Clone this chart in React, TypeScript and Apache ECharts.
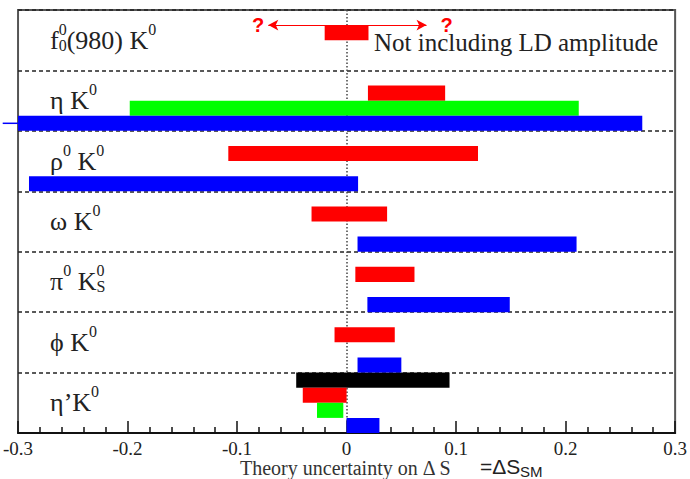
import React, { useEffect, useRef } from 'react';
import * as echarts from 'echarts';

// Rows (top to bottom), rich-text labels
const categories = [
  '{m|f}{supz|0}{sub|0}{m|(980) K}{sup|0}',
  '{m|η K}{sup|0}',
  '{m|ρ}{sup|0}{m| K}{sup|0}',
  '{m|ω K}{sup|0}',
  '{m|π}{sup|0}{m| K}{supz|0}{sub|S}',
  '{m|ϕ K}{sup|0}',
  '{m|η’K}{sup|0}',
];

const xMin = -0.3;
const xMax = 0.3;
const xStep = 0.1;

// Ranges of ΔS per row (null = no bar)
const redLow = [-0.02, 0.0195, -0.108, -0.032, 0.008, -0.011, -0.04];
const redHigh = [0.02, 0.09, 0.12, 0.037, 0.062, 0.044, 0.0];
const greenLow = [null, -0.198, null, null, null, null, -0.027];
const greenHigh = [null, 0.212, null, null, null, null, -0.003];
const blueLow = [null, -0.314, -0.29, 0.01, 0.019, 0.01, 0.0];
const blueHigh = [null, 0.27, 0.0105, 0.21, 0.149, 0.05, 0.03];
const blackLow = [null, null, null, null, null, null, -0.046];
const blackHigh = [null, null, null, null, null, null, 0.094];

const SLOTS = 4;
const serif = 'Liberation Serif';
const sans = 'Liberation Sans';

function makeSeries(name: string, color: string, lows: (number | null)[], highs: (number | null)[], slot: number, extra: any = {}) {
  const data: number[][] = [];
  lows.forEach((l, i) => {
    const h = highs[i];
    if (l != null && h != null) data.push([l, h, i]);
  });
  return {
    type: 'custom',
    name,
    xAxisIndex: 0,
    yAxisIndex: 0,
    z: 3,
    clip: false,
    data,
    encode: { x: [0, 1] },
    renderItem: (params: any, api: any) => {
      const lo = api.value(0);
      const hi = api.value(1);
      const row = api.value(2);
      const top = row * SLOTS + (SLOTS - 1 - slot);
      const a = api.coord([lo, top]);
      const b = api.coord([hi, top + 1]);
      const cs = params.coordSys;
      const rect = echarts.graphic.clipRectByRect(
        { x: a[0], y: a[1], width: b[0] - a[0], height: b[1] - a[1] },
        { x: cs.x, y: cs.y, width: cs.width, height: cs.height }
      );
      const children: any[] = [];
      if (rect) children.push({ type: 'rect', shape: rect, style: { fill: color } });
      if (a[0] < cs.x) {
        const ym = (a[1] + b[1]) / 2;
        children.push({
          type: 'line',
          shape: { x1: a[0], y1: ym, x2: cs.x, y2: ym },
          style: { stroke: color, lineWidth: 1.5 },
        });
      }
      return { type: 'group', children };
    },
    ...extra,
  };
}

const labelRich = {
  m: { fontFamily: serif, fontSize: 26, lineHeight: 32, color: '#222', verticalAlign: 'bottom' },
  sup: { fontFamily: serif, fontSize: 16, lineHeight: 16, padding: [0, 0, 16, 0], color: '#222', verticalAlign: 'bottom' },
  supz: { fontFamily: serif, fontSize: 16, lineHeight: 16, width: 0, padding: [0, 0, 16, 0], color: '#222', verticalAlign: 'bottom' },
  sub: { fontFamily: serif, fontSize: 16, lineHeight: 16, padding: [16, 0, 0, 0], color: '#222', verticalAlign: 'top' },
};

export default function App() {
  const ref = useRef<HTMLDivElement>(null);
  useEffect(() => {
    if (!ref.current) return;
    const chart = echarts.init(ref.current, null, { renderer: 'svg' });
    const arrowY = 1.0;
    chart.setOption({
      animation: false,
      backgroundColor: '#fff',
      grid: { left: 16, right: 13, top: 10, bottom: 46, show: true, borderColor: '#555', borderWidth: 2, backgroundColor: 'transparent' },
      xAxis: {
        type: 'value',
        min: xMin,
        max: xMax,
        interval: xStep,
        axisLine: { show: true, onZero: false, lineStyle: { color: '#111', width: 2 } },
        axisTick: { show: true, inside: true, length: 12, lineStyle: { color: '#111', width: 1.5 } },
        minorTick: { show: true, splitNumber: 5, length: 6, lineStyle: { color: '#111', width: 1.5 } },
        splitLine: { show: false },
        axisLabel: { fontFamily: serif, fontSize: 19, color: '#222', margin: 6 },
      },
      yAxis: [
        {
          type: 'value',
          min: 0,
          max: categories.length * SLOTS,
          interval: SLOTS,
          inverse: true,
          axisLine: { show: false, onZero: false },
          axisTick: { show: false },
          axisLabel: { show: false },
          splitLine: { show: true, lineStyle: { color: '#222', width: 1.5, type: [4, 3] } },
        },
        {
          type: 'category',
          data: categories,
          inverse: true,
          position: 'left',
          axisLine: { show: false, onZero: false },
          axisTick: { show: false },
          splitLine: { show: false },
          axisLabel: { inside: true, margin: 32, padding: [0, 0, 6, 0], rich: labelRich, fontFamily: serif, fontSize: 26, color: '#222' },
        },
      ],
      graphic: [
        {
          type: 'text',
          x: 374,
          y: 42,
          style: { text: 'Not including LD amplitude', fontFamily: serif, fontSize: 25, fill: '#222', verticalAlign: 'middle', align: 'left' },
        },
        {
          type: 'text',
          x: 240,
          y: 468,
          style: { text: 'Theory uncertainty on Δ S', fontFamily: serif, fontSize: 20, fill: '#333', verticalAlign: 'middle', align: 'left' },
        },
        {
          type: 'text',
          x: 480,
          y: 466,
          style: { text: '=ΔS', fontFamily: sans, fontSize: 21, fill: '#222', verticalAlign: 'middle', align: 'left' },
        },
        {
          type: 'text',
          x: 520,
          y: 471,
          style: { text: 'SM', fontFamily: sans, fontSize: 15, fill: '#222', verticalAlign: 'middle', align: 'left' },
        },
      ],
      series: [
        {
          type: 'line',
          name: 'zero',
          xAxisIndex: 0,
          yAxisIndex: 0,
          data: [[0, 0]],
          showSymbol: false,
          z: 1,
          markLine: {
            silent: true,
            z: 1,
            symbol: ['none', 'none'],
            label: { show: false },
            lineStyle: { color: '#444', width: 1.5, type: [1.5, 2] },
            data: [{ xAxis: 0 }],
          },
        },
        makeSeries('black', '#000000', blackLow, blackHigh, 3),
        makeSeries('red', '#ff0000', redLow, redHigh, 2, {
          markLine: {
            silent: true,
            z: 6,
            symbol: ['none', 'arrow'],
            symbolSize: [8, 10],
            lineStyle: { color: '#ff0000', width: 1, type: 'solid' },
            label: { show: true, position: 'end', formatter: '?', color: '#ff0000', fontSize: 20, fontWeight: 'bold', fontFamily: sans },
            data: [
              [
                { coord: [0, arrowY], label: { distance: 4 } },
                { coord: [-0.0715, arrowY], label: { distance: 4 } },
              ],
              [
                { coord: [0, arrowY], label: { distance: 14 } },
                { coord: [0.073, arrowY], label: { distance: 14 } },
              ],
            ],
          },
        }),
        makeSeries('green', '#00ff00', greenLow, greenHigh, 1),
        makeSeries('blue', '#0000ff', blueLow, blueHigh, 0),
      ],
    });
    return () => chart.dispose();
  }, []);
  return <div ref={ref} style={{ width: 690, height: 479, position: 'absolute', left: 0, top: 0 }} />;
}
